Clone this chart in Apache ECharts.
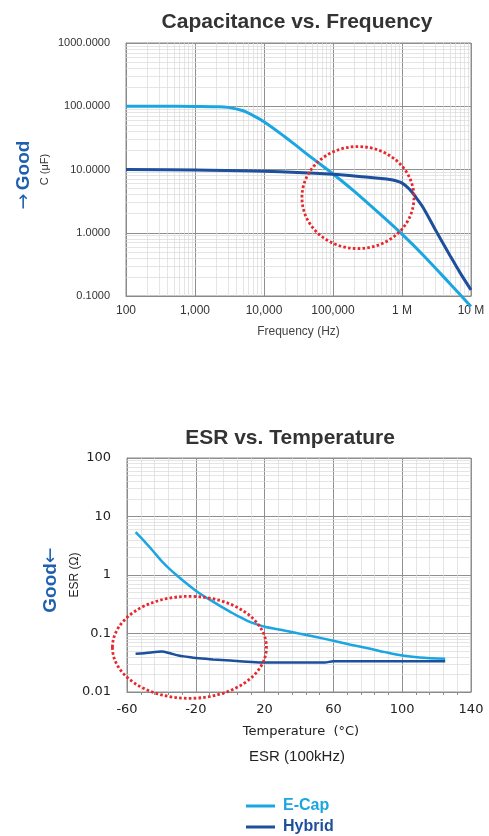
<!DOCTYPE html>
<html>
<head>
<meta charset="utf-8">
<script src="https://cdn.jsdelivr.net/npm/echarts@6/dist/echarts.min.js"></script>
<style>
html,body{margin:0;padding:0;background:#fff;}
#c{width:489px;height:836px;}
</style>
</head>
<body>
<div id="c"></div>
<script>
// ---- Capacitance vs Frequency ----
var capFreq   = [100, 300, 1000, 2000, 3000, 5000, 7000, 10000, 20000, 30000, 50000, 100000, 200000, 500000, 1000000, 2000000, 5000000, 10000000];
var ecapCap   = [100, 100, 99, 98, 96, 85, 71, 57, 33, 23.4, 15.1, 8.5, 4.6, 1.9, 0.95, 0.45, 0.155, 0.068];
var hybFreq   = [100, 1000, 10000, 100000, 300000, 500000, 700000, 1000000, 1300000, 1600000, 2000000, 3000000, 5000000, 7000000, 10000000];
var hybridCap = [10, 9.8, 9.4, 8.4, 7.6, 7.2, 6.9, 6.1, 4.8, 3.6, 2.55, 1.15, 0.43, 0.23, 0.125];
var freqTicks      = [100, 1000, 10000, 100000, 1000000, 10000000];
var freqTickLabels = ['100', '1,000', '10,000', '100,000', '1 M', '10 M'];
var capTicks       = [0.1, 1, 10, 100, 1000];
var capTickLabels  = ['0.1000', '1.0000', '10.0000', '100.0000', '1000.0000'];

// ---- ESR vs Temperature ----
var ecapTemp  = [-55, -50, -45, -40, -35, -30, -25, -20, -15, -10, -5, 0, 5, 10, 15, 20, 30, 40, 50, 60, 70, 80, 90, 100, 110, 125];
var ecapESR   = [5.4, 3.8, 2.6, 1.75, 1.25, 0.93, 0.7, 0.54, 0.43, 0.35, 0.285, 0.235, 0.195, 0.165, 0.145, 0.13, 0.115, 0.1, 0.087, 0.075, 0.064, 0.056, 0.048, 0.042, 0.039, 0.037];
var hybTemp   = [-55, -50, -45, -40, -35, -30, -25, -20, -10, 0, 10, 20, 40, 55, 60, 80, 100, 125];
var hybridESR = [0.045, 0.046, 0.048, 0.049, 0.046, 0.042, 0.040, 0.038, 0.036, 0.0345, 0.033, 0.032, 0.032, 0.032, 0.0335, 0.0335, 0.0335, 0.0335];
var esrTicks      = [0.01, 0.1, 1, 10, 100];
var esrTickLabels = ['0.01', '0.1', '1', '10', '100'];

var C_ECAP = '#1ba6e2';
var C_HYB  = '#1c4f9c';
var C_GOOD = '#1f5fb0';
var FONT = '"Liberation Sans", Arial, Helvetica, sans-serif';

function zip(a, b) { return a.map(function (v, i) { return [v, b[i]]; }); }
function labelFor(ticks, labels) {
  return function (v) {
    for (var i = 0; i < ticks.length; i++) {
      if (Math.abs(Math.log10(v) - Math.log10(ticks[i])) < 1e-6) return labels[i];
    }
    return '';
  };
}
function minorLogValues(lo, hi) {
  var out = [];
  for (var d = lo; d < hi * 0.999; d *= 10) {
    for (var k = 2; k <= 9; k++) out.push(+(d * k).toPrecision(6));
  }
  return out;
}

var minorStyle = { color: '#dadada', width: 0.7, type: 'solid' };
function minorMarkLine(axisKey, values) {
  return {
    silent: true, symbol: 'none', animation: false,
    label: { show: false },
    lineStyle: minorStyle,
    data: values.map(function (v) { var o = {}; o[axisKey] = v; return o; })
  };
}

var chart = echarts.init(document.getElementById('c'), null, { renderer: 'canvas' });

var legendText = { fontSize: 16, fontWeight: 'bold', fontFamily: FONT, padding: [0, 0, 0, 3] };

var option = {
  backgroundColor: '#fff',
  animation: false,
  textStyle: { fontFamily: FONT },
  title: [
    { text: 'Capacitance vs. Frequency', left: 297, top: 12, textAlign: 'center', padding: 0,
      textStyle: { fontSize: 21, fontWeight: 'bold', color: '#333', fontFamily: FONT } },
    { text: 'ESR vs. Temperature', left: 290, top: 428, textAlign: 'center', padding: 0,
      textStyle: { fontSize: 21, fontWeight: 'bold', color: '#333', fontFamily: FONT } },
    { text: 'ESR (100kHz)', left: 297, top: 749, textAlign: 'center', padding: 0,
      textStyle: { fontSize: 15, fontWeight: 'normal', color: '#222', fontFamily: FONT } }
  ],
  legend: [
    { left: 246, top: 798, itemWidth: 29, itemHeight: 3, icon: 'rect', padding: 0,
      data: [{ name: 'E-Cap', textStyle: { color: C_ECAP } }], textStyle: legendText },
    { left: 246, top: 819, itemWidth: 29, itemHeight: 3, icon: 'rect', padding: 0,
      data: [{ name: 'Hybrid', textStyle: { color: C_HYB } }], textStyle: legendText }
  ],
  grid: [
    { left: 126, top: 43, width: 345, height: 253, show: true, borderColor: '#8a8a8a', borderWidth: 1 },
    { left: 127, top: 458, width: 344, height: 234, show: true, borderColor: '#8a8a8a', borderWidth: 1 }
  ],
  xAxis: [
    { type: 'log', gridIndex: 0, min: 100, max: 10000000, logBase: 10,
      name: 'Frequency (Hz)', nameLocation: 'middle', nameGap: 30, nameMoveOverlap: false,
      nameTextStyle: { fontSize: 12, color: '#444' },
      axisLine: { onZero: false, lineStyle: { color: '#8a8a8a' } },
      axisTick: { show: false },
      axisLabel: { fontSize: 12, color: '#333', margin: 9, formatter: labelFor(freqTicks, freqTickLabels), showMaxLabel: true },
      splitLine: { show: true, lineStyle: { color: '#8f8f8f', width: 1 } } },
    { type: 'value', gridIndex: 1, min: -60, max: 140, interval: 40,
      name: 'Temperature  (°C)', nameLocation: 'middle', nameGap: 33, nameMoveOverlap: false,
      nameTextStyle: { fontSize: 13, color: '#222', fontFamily: '"DejaVu Sans", sans-serif', padding: [0, 0, 0, 4] },
      axisLine: { onZero: false, lineStyle: { color: '#8a8a8a' } },
      axisTick: { show: false },
      minorTick: { show: true, splitNumber: 5, length: 3, lineStyle: { color: '#8a8a8a' } },
      minorSplitLine: { show: true, lineStyle: minorStyle },
      axisLabel: { fontSize: 13, color: '#222', margin: 11, fontFamily: '"DejaVu Sans", sans-serif' },
      splitLine: { show: true, lineStyle: { color: '#8f8f8f', width: 1 } } }
  ],
  yAxis: [
    { type: 'log', gridIndex: 0, min: 0.1, max: 1000, logBase: 10,
      name: 'C (μF)', nameLocation: 'middle', nameGap: 76, nameRotate: 90, nameMoveOverlap: false,
      nameTextStyle: { fontSize: 11, color: '#333' },
      axisLine: { onZero: false, lineStyle: { color: '#8a8a8a' } },
      axisTick: { show: false },
      axisLabel: { fontSize: 11, color: '#333', margin: 16, formatter: labelFor(capTicks, capTickLabels) },
      splitLine: { show: true, lineStyle: { color: '#8f8f8f', width: 1 } } },
    { type: 'log', gridIndex: 1, min: 0.01, max: 100, logBase: 10,
      name: 'ESR (Ω)', nameLocation: 'middle', nameGap: 46, nameRotate: 90, nameMoveOverlap: false,
      nameTextStyle: { fontSize: 12, color: '#222' },
      axisLine: { onZero: false, lineStyle: { color: '#8a8a8a' } },
      axisTick: { show: false },
      axisLabel: { fontSize: 13, color: '#222', margin: 16, fontFamily: '"DejaVu Sans", sans-serif', formatter: labelFor(esrTicks, esrTickLabels) },
      splitLine: { show: true, lineStyle: { color: '#8f8f8f', width: 1 } } }
  ],
  series: [
    { name: 'minorX0', type: 'line', xAxisIndex: 0, yAxisIndex: 0, data: [], silent: true,
      markLine: minorMarkLine('xAxis', minorLogValues(100, 10000000)) },
    { name: 'minorY0', type: 'line', xAxisIndex: 0, yAxisIndex: 0, data: [], silent: true,
      markLine: minorMarkLine('yAxis', minorLogValues(0.1, 1000)) },
    { name: 'minorY1', type: 'line', xAxisIndex: 1, yAxisIndex: 1, data: [], silent: true,
      markLine: minorMarkLine('yAxis', minorLogValues(0.01, 100)) },
    { name: 'E-Cap', type: 'line', xAxisIndex: 0, yAxisIndex: 0, data: zip(capFreq, ecapCap),
      smooth: 0.35, showSymbol: false, clip: false, color: C_ECAP, lineStyle: { width: 3, color: C_ECAP }, z: 5 },
    { name: 'Hybrid', type: 'line', xAxisIndex: 0, yAxisIndex: 0, data: zip(hybFreq, hybridCap),
      smooth: 0.35, showSymbol: false, clip: false, color: C_HYB, lineStyle: { width: 3, color: C_HYB }, z: 5 },
    { name: 'E-Cap', type: 'line', xAxisIndex: 1, yAxisIndex: 1, data: zip(ecapTemp, ecapESR),
      smooth: 0.35, showSymbol: false, color: C_ECAP, lineStyle: { width: 2.5, color: C_ECAP }, z: 5 },
    { name: 'Hybrid', type: 'line', xAxisIndex: 1, yAxisIndex: 1, data: zip(hybTemp, hybridESR),
      smooth: 0.35, showSymbol: false, color: C_HYB, lineStyle: { width: 2.5, color: C_HYB }, z: 5 }
  ]
};
chart.setOption(option);

// annotations: dotted red ellipses placed through the axes, and the "Good" markers
var p1 = chart.convertToPixel({ gridIndex: 0 }, [230000, 3.6]);
var p2 = chart.convertToPixel({ gridIndex: 1 }, [-23.7, 0.058]);
var dotStyle = { fill: 'none', stroke: '#e8262b', lineWidth: 2.8, lineDash: [2.6, 2.2], lineCap: 'butt' };
var goodRich = {
  g: { fill: C_GOOD, font: 'bold 19px ' + FONT },
  a: { fill: C_GOOD, font: 'normal 19px "DejaVu Sans", sans-serif' }
};
chart.setOption({
  graphic: [
    { type: 'ellipse', shape: { cx: p1[0], cy: p1[1], rx: 56, ry: 51 }, z: 20, silent: true, style: dotStyle },
    { type: 'ellipse', shape: { cx: p2[0], cy: p2[1], rx: 77, ry: 51 }, z: 20, silent: true, style: dotStyle },
    { type: 'text', x: 24, y: 175, rotation: Math.PI / 2, z: 20, silent: true,
      style: { text: '{a|→} {g|Good}', rich: goodRich, align: 'center', verticalAlign: 'middle' } },
    { type: 'text', x: 51, y: 580, rotation: Math.PI / 2, z: 20, silent: true,
      style: { text: '{g|Good}{a|←}', rich: goodRich, align: 'center', verticalAlign: 'middle' } }
  ]
});
</script>
</body>
</html>
